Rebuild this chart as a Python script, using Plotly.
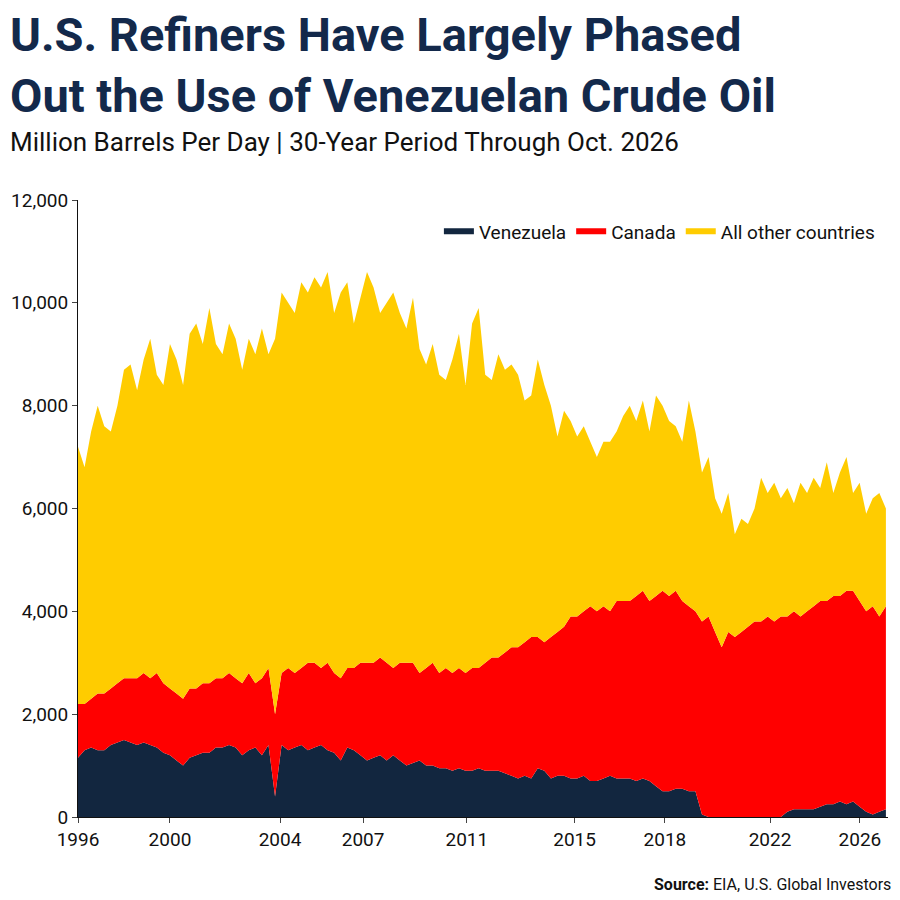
import plotly.graph_objects as go

start_year = 1996.0
ven = [1.15,1.3,1.35,1.3, 1.3,1.4,1.45,1.5, 1.45,1.4,1.45,1.4, 1.35,1.25,1.2,1.1,
       1.0,1.15,1.2,1.25, 1.25,1.35,1.35,1.4, 1.35,1.2,1.3,1.35, 1.2,1.4,0.4,1.4,
       1.3,1.35,1.4,1.3, 1.35,1.4,1.3,1.25, 1.1,1.35,1.3,1.2, 1.1,1.15,1.2,1.1,
       1.2,1.1,1.0,1.05, 1.1,1.0,1.0,0.95, 0.95,0.9,0.95,0.9, 0.9,0.95,0.9,0.9,
       0.9,0.85,0.8,0.75, 0.8,0.75,0.95,0.9, 0.75,0.8,0.8,0.75, 0.75,0.8,0.7,0.7,
       0.75,0.8,0.75,0.75, 0.75,0.7,0.75,0.7, 0.6,0.5,0.5,0.55, 0.55,0.5,0.5,0.05,
       0,0,0,0, 0,0,0,0, 0,0,0,0, 0.1,0.15,0.15,0.15,
       0.15,0.2,0.25,0.25, 0.3,0.25,0.3,0.2, 0.1,0.05,0.1,0.15]
ven_can = [2.2,2.2,2.3,2.4, 2.4,2.5,2.6,2.7, 2.7,2.7,2.8,2.7, 2.8,2.6,2.5,2.4,
           2.3,2.5,2.5,2.6, 2.6,2.7,2.7,2.8, 2.7,2.6,2.8,2.6, 2.7,2.9,2.0,2.8,
           2.9,2.8,2.9,3.0, 3.0,2.9,3.0,2.8, 2.7,2.9,2.9,3.0, 3.0,3.0,3.1,3.0,
           2.9,3.0,3.0,3.0, 2.8,2.9,3.0,2.8, 2.9,2.8,2.9,2.8, 2.9,2.9,3.0,3.1,
           3.1,3.2,3.3,3.3, 3.4,3.5,3.5,3.4, 3.5,3.6,3.7,3.9, 3.9,4.0,4.1,4.0,
           4.1,4.0,4.2,4.2, 4.2,4.3,4.4,4.2, 4.3,4.4,4.3,4.4, 4.2,4.1,4.0,3.8,
           3.9,3.6,3.3,3.6, 3.5,3.6,3.7,3.8, 3.8,3.9,3.8,3.9, 3.9,4.0,3.9,4.0,
           4.1,4.2,4.2,4.3, 4.3,4.4,4.4,4.2, 4.0,4.1,3.9,4.1]
total = [7.2,6.8,7.5,8.0, 7.6,7.5,8.0,8.7, 8.8,8.3,8.9,9.3, 8.6,8.4,9.2,8.9,
         8.4,9.4,9.6,9.2, 9.9,9.2,9.0,9.6, 9.3,8.7,9.3,9.0, 9.5,9.0,9.3,10.2,
         10.0,9.8,10.4,10.2, 10.5,10.3,10.6,9.8, 10.2,10.4,9.6,10.1, 10.6,10.3,9.8,10.0,
         10.2,9.8,9.5,10.1, 9.1,8.8,9.2,8.6, 8.5,8.9,9.4,8.4, 9.6,9.9,8.6,8.5,
         9.0,8.7,8.8,8.6, 8.1,8.2,8.9,8.4, 8.0,7.4,7.9,7.7, 7.4,7.6,7.3,7.0,
         7.3,7.3,7.5,7.8, 8.0,7.7,8.1,7.5, 8.2,8.0,7.7,7.6, 7.3,8.1,7.5,6.7,
         7.0,6.2,5.9,6.3, 5.5,5.8,5.7,6.0, 6.6,6.3,6.5,6.2, 6.4,6.1,6.5,6.3,
         6.6,6.4,6.9,6.3, 6.7,7.0,6.3,6.5, 5.9,6.2,6.3,6.0]
tick_vals = [1996.0, 1999.5, 2003.69, 2006.85, 2010.8, 2014.9, 2018.34, 2022.34, 2025.76]
tick_text = ["1996", "2000", "2004", "2007", "2011", "2015", "2018", "2022", "2026"]

x = [start_year + 0.25 * i for i in range(len(ven))]
venezuela = [v * 1000 for v in ven]
canada = [(c - v) * 1000 for c, v in zip(ven_can, ven)]
others = [(t - c) * 1000 for t, c in zip(total, ven_can)]

fig = go.Figure()
for name, ys, col in [("Venezuela", venezuela, "#12263f"), ("Canada", canada, "#ff0000"),
                      ("All other countries", others, "#ffcc00")]:
    fig.add_trace(go.Scatter(x=x, y=ys, name=name, stackgroup="one", mode="none",
                             fillcolor=col, line=dict(width=0)))

fig.update_layout(
    width=892, height=892, paper_bgcolor="white", plot_bgcolor="white",
    margin=dict(l=70, r=12, t=192, b=83, autoexpand=False),
    font=dict(family="Roboto", color="#111", size=18),
    legend=dict(orientation="h", x=0.99, xanchor="right", y=0.98, yanchor="top",
                font=dict(size=19, family="Roboto"), bgcolor="rgba(0,0,0,0)",
                traceorder="normal", itemwidth=30),
    xaxis=dict(range=[1996.0, 2026.83], tickvals=tick_vals, ticktext=tick_text,
               showgrid=False, showline=True, linecolor="#111", ticks="outside",
               ticklen=5, tickfont=dict(size=19), automargin=False),
    yaxis=dict(range=[0, 12000], tickvals=list(range(0, 12001, 2000)),
               tickformat=",", showgrid=False, showline=True, linecolor="#111",
               ticks="outside", ticklen=5, tickfont=dict(size=19), automargin=False),
)
fig.add_annotation(text="<b>U.S. Refiners Have Largely Phased<br>Out the Use of Venezuelan Crude Oil</b>",
                   xref="paper", yref="paper", x=-0.086, y=1.316, xanchor="left", yanchor="top",
                   align="left", showarrow=False,
                   font=dict(size=47, color="#13294b", family="Roboto", weight=900))
fig.add_annotation(text="Million Barrels Per Day | 30-Year Period Through Oct. 2026",
                   xref="paper", yref="paper", x=-0.086, y=1.122, xanchor="left", yanchor="top",
                   showarrow=False, font=dict(size=26, color="#111", family="Roboto"))
fig.add_annotation(text="<b>Source:</b> EIA, U.S. Global Investors",
                   xref="paper", yref="paper", x=1.006, y=-0.11, xanchor="right", yanchor="middle",
                   showarrow=False, font=dict(size=16, color="#111", family="Roboto"))
fig.write_html("out.html")
